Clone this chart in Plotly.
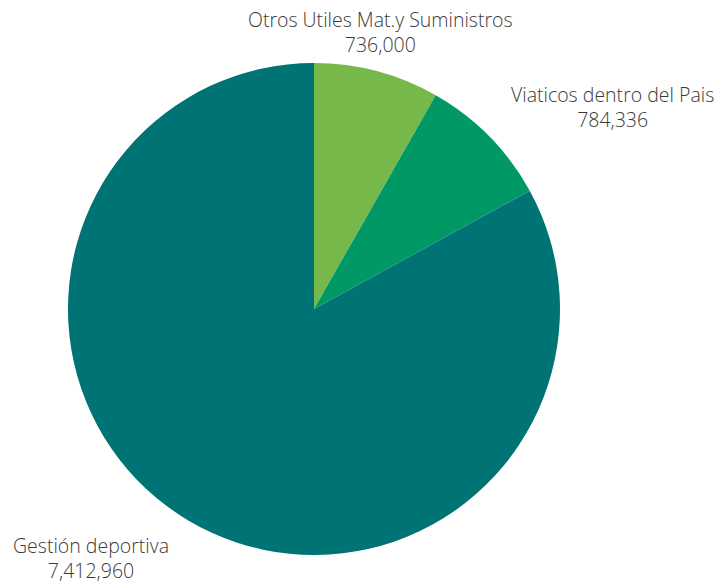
import math
import plotly.graph_objects as go

labels = ["Otros Utiles Mat.y Suministros", "Viaticos dentro del Pais", "Gestión deportiva"]
values = [736000, 784336, 7412960]
colors = ["#76b94a", "#009966", "#007475"]

fig = go.Figure(go.Pie(
    labels=labels,
    values=values,
    sort=False,
    direction="clockwise",
    rotation=0,
    marker=dict(colors=colors, line=dict(width=0)),
    textinfo="none",
    hoverinfo="label+value",
    domain=dict(x=[0, 1], y=[0, 1]),
))

# label positions derived from the slice mid-angles
total = sum(values)
cum = 0
annotations = []
for lab, val in zip(labels, values):
    mid = (cum + val / 2) / total * 2 * math.pi
    cum += val
    s, c = math.sin(mid), math.cos(mid)
    k = 1.05
    x = 0.5 + 0.5 * k * s
    y = 0.5 + 0.5 * k * c
    centered = abs(s) < 0.3
    xanchor = "center" if centered else ("left" if s > 0 else "right")
    yanchor = "bottom" if c > 0 else "top"
    annotations.append(dict(
        x=x, y=y, xref="paper", yref="paper",
        xshift=0 if centered else (12 if s > 0 else -12),
        yshift=-6 if (c > 0 and not centered) else 0,
        text=f"{lab}<br>{val:,}",
        showarrow=False, xanchor=xanchor, yanchor=yanchor, align="center",
        borderpad=0,
        font=dict(family="Open Sans", size=19.5, color="#3a3a3a", weight=300),
    ))

fig.update_layout(
    width=726, height=581,
    margin=dict(l=60, r=174, t=55, b=34),
    showlegend=False,
    paper_bgcolor="white",
    plot_bgcolor="white",
    annotations=annotations,
)
fig.write_html("out.html")
